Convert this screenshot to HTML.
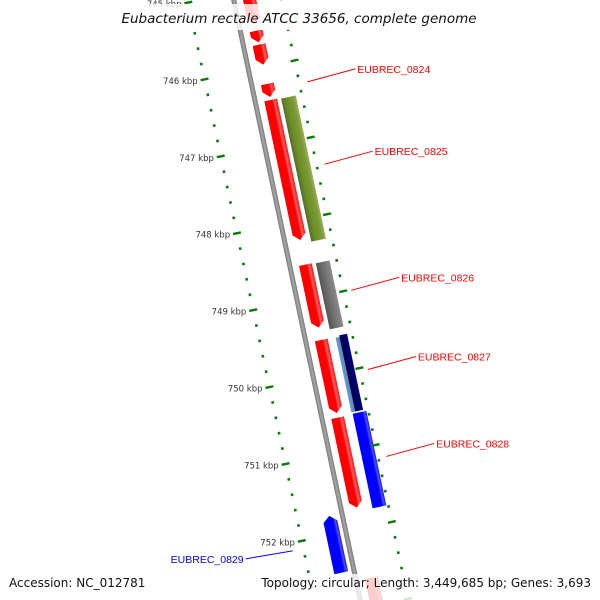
<!DOCTYPE html>
<html><head><meta charset="utf-8"><style>
html,body{margin:0;padding:0;background:#fff;width:600px;height:600px;overflow:hidden;}
svg{display:block;overflow:hidden;font-family:"DejaVu Sans","Liberation Sans",sans-serif;}
</style></head><body>
<svg id="map" width="600" height="600" viewBox="0 0 600 600" xmlns="http://www.w3.org/2000/svg">
<defs>
<clipPath id="frame"><rect x="0" y="0" width="600" height="600"/></clipPath>
<linearGradient id="gRed" x1="0" x2="1" y1="0" y2="0"><stop offset="0" stop-color="#ff0000"/><stop offset="0.6" stop-color="#ff0000"/><stop offset="0.75" stop-color="#ff6060"/><stop offset="1" stop-color="#ff1010"/></linearGradient>
<linearGradient id="gOlive" x1="0" x2="1"><stop offset="0" stop-color="#556b2f"/><stop offset="0.3" stop-color="#6b8e23"/><stop offset="0.75" stop-color="#7a9a35"/><stop offset="1" stop-color="#9ab060"/></linearGradient>
<linearGradient id="gGray" x1="0" x2="1"><stop offset="0" stop-color="#555"/><stop offset="0.35" stop-color="#6a6a6a"/><stop offset="1" stop-color="#8a8a8a"/></linearGradient>
<linearGradient id="gSteel" x1="0" x2="1"><stop offset="0" stop-color="#6a9ad0"/><stop offset="1" stop-color="#4682b4"/></linearGradient>
<linearGradient id="gNavy" x1="0" x2="1"><stop offset="0" stop-color="#00004a"/><stop offset="1" stop-color="#000080"/></linearGradient>
<linearGradient id="gBlue" x1="0" x2="1"><stop offset="0" stop-color="#0000ff"/><stop offset="0.7" stop-color="#0000ff"/><stop offset="0.85" stop-color="#5050ff"/><stop offset="1" stop-color="#1010ff"/></linearGradient>
<linearGradient id="gBack" x1="0" x2="1"><stop offset="0" stop-color="#777"/><stop offset="0.5" stop-color="#a8a8a8"/><stop offset="1" stop-color="#777"/></linearGradient>
</defs>
<g clip-path="url(#frame)">
<g id="rot" transform="translate(297,300) rotate(-11.9)"></g>
</g>
<g id="over"></g>
<rect x="114" y="4" width="372" height="26" fill="#fff" opacity="0.82"/>
<text x="299" y="23" text-anchor="middle" font-size="13.5" font-style="italic" fill="#111">Eubacterium rectale ATCC 33656, complete genome</text>
<rect x="0" y="574" width="600" height="26" fill="#fff" opacity="0.8"/>
<text x="9" y="587" font-size="12" fill="#111">Accession: NC_012781</text>
<text x="591" y="587" text-anchor="end" font-size="12" fill="#111">Topology: circular; Length: 3,449,685 bp; Genes: 3,693</text>
</svg>
<script>
// data (kbp)
const redStarts=[744.9,745.53,745.71,746.22,746.43,748.57,749.55,750.56,752.64];
const redEnds  =[745.45,745.68,745.97,746.39,748.25,749.39,750.50,751.73,753.3];
const geneNames=["olive","gray","steelblue","navy","blue","blue-left"];
const geneStarts=[746.44,748.58,749.56,749.54,750.55,751.76];
const geneEnds  =[748.30,749.44,750.53,750.53,751.78,752.50];
const labelNames=["EUBREC_0824","EUBREC_0825","EUBREC_0826","EUBREC_0827","EUBREC_0828","EUBREC_0829"];
const labelPos=[746.30,747.37,749.01,750.04,751.17,752.10];
const tickStart=744.8, tickEnd=753.2, tickStep=0.2;

const NS="http://www.w3.org/2000/svg";
const C=Math.cos(11.9*Math.PI/180), S=Math.sin(11.9*Math.PI/180);
const PX=78.6;
function vAxis(k){return (k-749)*PX+0.9;}
function toScreen(u,v){return [297+u*C+v*S, 300-u*S+v*C];}
const rot=document.getElementById('rot'), over=document.getElementById('over');
function mk(tag,parent,attrs){const e=document.createElementNS(NS,tag);for(const a in attrs)e.setAttribute(a,attrs[a]);parent.appendChild(e);return e;}

// backbone
let bb=mk('rect',rot,{x:-2.5,y:-330,width:5,height:640,fill:'url(#gBack)'});



function arrow(u0,u1,k0,k1,fill,dir,tip){
  const a=vAxis(k0), b=vAxis(k1), m=(u0+u1)/2;
  let pts;
  if(dir>0) pts=[[u0,a],[u1,a],[u1,b-tip],[m,b],[u0,b-tip]];
  else if(dir<0) pts=[[m,a],[u1,a+tip],[u1,b],[u0,b],[u0,a+tip]];
  else pts=[[u0,a],[u1,a],[u1,b],[u0,b]];
  return mk('polygon',rot,{points:pts.map(q=>q.join(',')).join(' '),fill:fill});
}
for(let i=0;i<redStarts.length;i++){
  const p=arrow(9,22,redStarts[i],redEnds[i],'url(#gRed)',1,6);
  
  
}
const laneU=[[26,41],[26,40],[30,37],[34,42],[31,45],[-20,-6]];
const fills=['url(#gOlive)','url(#gGray)','url(#gSteel)','url(#gNavy)','url(#gBlue)','url(#gBlue)'];
const dirs=[0,0,0,0,0,-1];
for(let i=0;i<geneNames.length;i++){
  const p=arrow(laneU[i][0],laneU[i][1],geneStarts[i],geneEnds[i],fills[i],dirs[i],6);
  
  
}
const nT=Math.round((tickEnd-tickStart)/tickStep);
for(let j=0;j<=nT;j++){
  const k=tickStart+j*tickStep, v=vAxis(k);
  const major=Math.abs(k-Math.round(k))<1e-6;
  [-45,47].forEach(uc=>{
    const len=major?8:2.6;
    const t=mk('rect',rot,{x:uc-len/2,y:v-(major?1.2:1.3),width:len,height:major?2.4:2.6,fill:'#0a7a0a'});
    
    
  });
  if(major){
    const [x,y]=toScreen(-52,v);
    const t=mk('text',over,{x:x,y:y+3,'text-anchor':'end','font-size':'8.5',fill:'#333'});
    t.textContent=Math.round(k)+' kbp';
    
    
  }
}
for(let i=0;i<labelNames.length;i++){
  const left=labelNames[i]==="EUBREC_0829";
  const [x,y]=toScreen(left?-56:55,vAxis(labelPos[i]));
  const col=left?'#0000ff':'#ff0000';
  const ex=left?x-47:x+48, ey=left?y+8:y-13;
  const l=mk('line',over,{x1:x,y1:y,x2:ex,y2:ey,stroke:col,'stroke-width':1});
  
  
  const t=mk('text',over,{x:left?ex-2:ex+2,y:ey+4,'text-anchor':left?'end':'start','font-size':'10.5','font-family':'"Liberation Sans",sans-serif',fill:col});
  t.textContent=labelNames[i];
  
  
}
</script>
</body></html>
